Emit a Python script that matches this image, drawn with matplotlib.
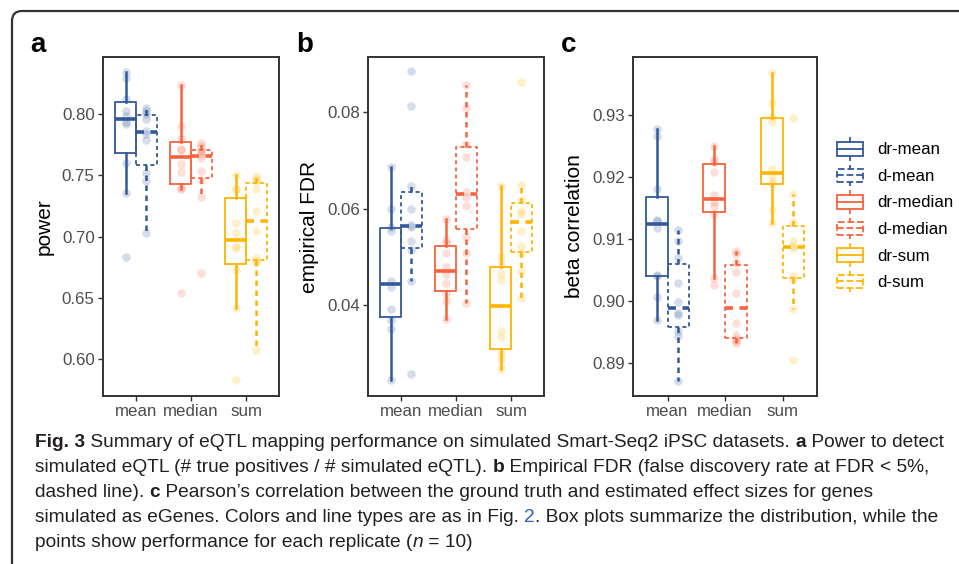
import matplotlib
matplotlib.use("Agg")
import matplotlib.pyplot as plt
from matplotlib.patches import Rectangle, FancyBboxPatch
from matplotlib.lines import Line2D
from matplotlib.legend_handler import HandlerBase
from matplotlib.font_manager import FontProperties
import numpy as np

# ---- data (10 replicates per method) ----
methods = ["mean", "median", "sum"]
series = ["dr-mean", "d-mean", "dr-median", "d-median", "dr-sum", "d-sum"]

power_dr_mean = [0.6831, 0.7352, 0.7604, 0.7918, 0.7932, 0.7981, 0.8027, 0.8123, 0.8292, 0.8342]
power_d_mean = [0.7025, 0.7454, 0.7516, 0.7787, 0.7840, 0.7862, 0.7959, 0.8003, 0.8027, 0.8049]
power_dr_median = [0.6538, 0.7385, 0.7400, 0.7530, 0.7590, 0.7705, 0.7713, 0.7795, 0.7904, 0.8238]
power_d_median = [0.6702, 0.7322, 0.7462, 0.7535, 0.7645, 0.7671, 0.7690, 0.7708, 0.7740, 0.7768]
power_dr_sum = [0.5828, 0.6415, 0.6729, 0.6907, 0.6921, 0.7025, 0.7112, 0.7385, 0.7390, 0.7503]
power_d_sum = [0.6074, 0.6784, 0.6800, 0.6825, 0.7044, 0.7208, 0.7391, 0.7454, 0.7470, 0.7494]

fdr_dr_mean = [0.0245, 0.0351, 0.0370, 0.0392, 0.0439, 0.0450, 0.0553, 0.0563, 0.0600, 0.0687]
fdr_d_mean = [0.0258, 0.0450, 0.0515, 0.0533, 0.0563, 0.0567, 0.0600, 0.0647, 0.0812, 0.0884]
fdr_dr_median = [0.0371, 0.0410, 0.0425, 0.0446, 0.0465, 0.0479, 0.0508, 0.0529, 0.0536, 0.0579]
fdr_d_median = [0.0405, 0.0508, 0.0542, 0.0606, 0.0625, 0.0635, 0.0707, 0.0735, 0.0809, 0.0856]
fdr_dr_sum = [0.0269, 0.0290, 0.0302, 0.0335, 0.0346, 0.0453, 0.0465, 0.0484, 0.0500, 0.0647]
fdr_d_sum = [0.0415, 0.0472, 0.0508, 0.0522, 0.0554, 0.0590, 0.0595, 0.0618, 0.0649, 0.0863]

beta_dr_mean = [0.8970, 0.9007, 0.9040, 0.9042, 0.9118, 0.9129, 0.9131, 0.9180, 0.9265, 0.9277]
beta_d_mean = [0.8871, 0.8943, 0.8951, 0.8978, 0.8980, 0.8998, 0.9029, 0.9069, 0.9096, 0.9115]
beta_dr_median = [0.9025, 0.9037, 0.9140, 0.9153, 0.9160, 0.9170, 0.9208, 0.9224, 0.9228, 0.9250]
beta_d_median = [0.8932, 0.8936, 0.8939, 0.8945, 0.8964, 0.9013, 0.9046, 0.9061, 0.9076, 0.9080]
beta_dr_sum = [0.9126, 0.9147, 0.9188, 0.9193, 0.9201, 0.9212, 0.9288, 0.9296, 0.9319, 0.9368]
beta_d_sum = [0.8905, 0.8987, 0.9035, 0.9040, 0.9085, 0.9089, 0.9097, 0.9128, 0.9173, 0.9294]

panels = [
    ("a", "power", [power_dr_mean, power_d_mean, power_dr_median, power_d_median, power_dr_sum, power_d_sum],
     [0.60, 0.65, 0.70, 0.75, 0.80], (0.5697, 0.8467)),
    ("b", "empirical FDR", [fdr_dr_mean, fdr_d_mean, fdr_dr_median, fdr_d_median, fdr_dr_sum, fdr_d_sum],
     [0.04, 0.06, 0.08], (0.02125, 0.0914)),
    ("c", "beta correlation", [beta_dr_mean, beta_d_mean, beta_dr_median, beta_d_median, beta_dr_sum, beta_d_sum],
     [0.89, 0.90, 0.91, 0.92, 0.93], (0.8847, 0.9393)),
]

colors = {"mean": "#34599A", "median": "#F8623F", "sum": "#FFB400"}

caption = [
    [("Fig. 3", "bold", "#231F20", "normal"),
     (" Summary of eQTL mapping performance on simulated Smart-Seq2 iPSC datasets. ", "normal", "#231F20", "normal"),
     ("a", "bold", "#231F20", "normal"), (" Power to detect", "normal", "#231F20", "normal")],
    [("simulated eQTL (# true positives / # simulated eQTL). ", "normal", "#231F20", "normal"),
     ("b", "bold", "#231F20", "normal"),
     (" Empirical FDR (false discovery rate at FDR < 5%,", "normal", "#231F20", "normal")],
    [("dashed line). ", "normal", "#231F20", "normal"), ("c", "bold", "#231F20", "normal"),
     (" Pearson\u2019s correlation between the ground truth and estimated effect sizes for genes", "normal", "#231F20", "normal")],
    [("simulated as eGenes. Colors and line types are as in Fig. ", "normal", "#231F20", "normal"),
     ("2", "normal", "#2B5FB8", "normal"),
     (". Box plots summarize the distribution, while the", "normal", "#231F20", "normal")],
    [("points show performance for each replicate (", "normal", "#231F20", "normal"),
     ("n", "normal", "#231F20", "italic"), (" = 10)", "normal", "#231F20", "normal")],
]

W, H = 959, 564
plt.rcParams["font.family"] = ["Liberation Sans", "DejaVu Sans"]
fig = plt.figure(figsize=(W / 100, H / 100), dpi=100)

# background axes in pixel units for frame, panel letters and caption
bg = fig.add_axes([0, 0, 1, 1], zorder=-1)
bg.set_xlim(0, W)
bg.set_ylim(H, 0)
bg.axis("off")
bg.add_patch(FancyBboxPatch((12, 11), W + 40, H + 40, boxstyle="round,pad=0,rounding_size=10",
                            fill=False, ec="#333333", lw=1.6))

axes_px = [(103, 279), (368, 544), (633, 817)]
top_px, bot_px = 57, 396
letters_x = [30, 296, 561]

line_d = (0, (2.2, 1.8))

for (letter, ylabel, data, ticks, ylim), (x0, x1), lx in zip(panels, axes_px, letters_x):
    ax = fig.add_axes([x0 / W, 1 - bot_px / H, (x1 - x0) / W, (bot_px - top_px) / H])
    for k, vals in enumerate(data):
        m = k // 2
        dashed = k % 2 == 1
        pos = m + 1 + (0.1875 if dashed else -0.1875)
        c = colors[methods[m]]
        ls = line_d if dashed else "-"
        ax.boxplot([vals], positions=[pos], widths=0.375, showfliers=False, showcaps=False,
                   patch_artist=False, manage_ticks=False,
                   boxprops=dict(color=c, lw=1.3, ls=ls),
                   whiskerprops=dict(color=c, lw=1.8, ls=ls),
                   medianprops=dict(color=c, lw=2.6, ls=ls, solid_capstyle="butt"))
        ax.scatter(np.full(len(vals), pos), vals, s=38, color=c, alpha=0.2, lw=0, zorder=3)
    ax.set_xlim(0.4, 3.6)
    ax.set_ylim(*ylim)
    ax.set_xticks([1, 2, 3])
    ax.set_xticklabels(methods)
    ax.set_yticks(ticks)
    ax.set_yticklabels([f"{t:.2f}" for t in ticks])
    ax.tick_params(labelsize=12.2, colors="#333333", labelcolor="#4D4D4D", length=3.5, width=1.0, pad=2.5)
    ax.set_ylabel(ylabel, fontsize=15, color="black", labelpad=6)
    for s in ax.spines.values():
        s.set_color("#333333")
        s.set_linewidth(1.4)
    bg.text(lx, 52, letter, fontsize=20, fontweight="bold", color="black", ha="left", va="baseline")


class HandlerBox(HandlerBase):
    def create_artists(self, legend, orig_handle, xdescent, ydescent, width, height, fontsize, trans):
        c = orig_handle.get_color()
        ls = orig_handle.get_linestyle()
        x0, y0 = -xdescent, -ydescent
        bh = height * 0.62
        by = y0 + (height - bh) / 2
        kw = dict(color=c, ls=ls, lw=1.3, transform=trans)
        rect = Rectangle((x0, by), width, bh, fill=False, ec=c, ls=ls, lw=1.3, transform=trans)
        mid = Line2D([x0, x0 + width], [y0 + height / 2] * 2, **kw)
        w1 = Line2D([x0 + width / 2] * 2, [y0, by], **kw)
        w2 = Line2D([x0 + width / 2] * 2, [by + bh, y0 + height], **kw)
        return [rect, mid, w1, w2]


handles = []
for k, name in enumerate(series):
    handles.append(Line2D([], [], color=colors[methods[k // 2]], ls="--" if k % 2 else "-"))
fig.legend(handles, series, handler_map={Line2D: HandlerBox()}, loc="upper left",
           bbox_to_anchor=(837 / W, 1 - 138 / H), frameon=False, fontsize=12.2,
           handlelength=1.55, handleheight=1.6, labelspacing=0.28, handletextpad=0.8,
           borderpad=0, borderaxespad=0)

# caption in rich text runs
renderer = fig.canvas.get_renderer()
cap_family = ["Liberation Sans", "DejaVu Sans"]
cap_size = 13.8


def run_width(s, fp):
    w_all, _, _ = renderer.get_text_width_height_descent("|" + s + "|", fp, ismath=False)
    w_bar, _, _ = renderer.get_text_width_height_descent("||", fp, ismath=False)
    return w_all - w_bar


for i, line in enumerate(caption):
    x = 35
    y = 447 + i * 25
    for s, weight, col, style in line:
        fp = FontProperties(family=cap_family, size=cap_size, weight=weight, style=style)
        bg.text(x, y, s, fontproperties=fp, color=col, ha="left", va="baseline")
        x += run_width(s, fp)

fig.savefig("out.png", dpi=100)
